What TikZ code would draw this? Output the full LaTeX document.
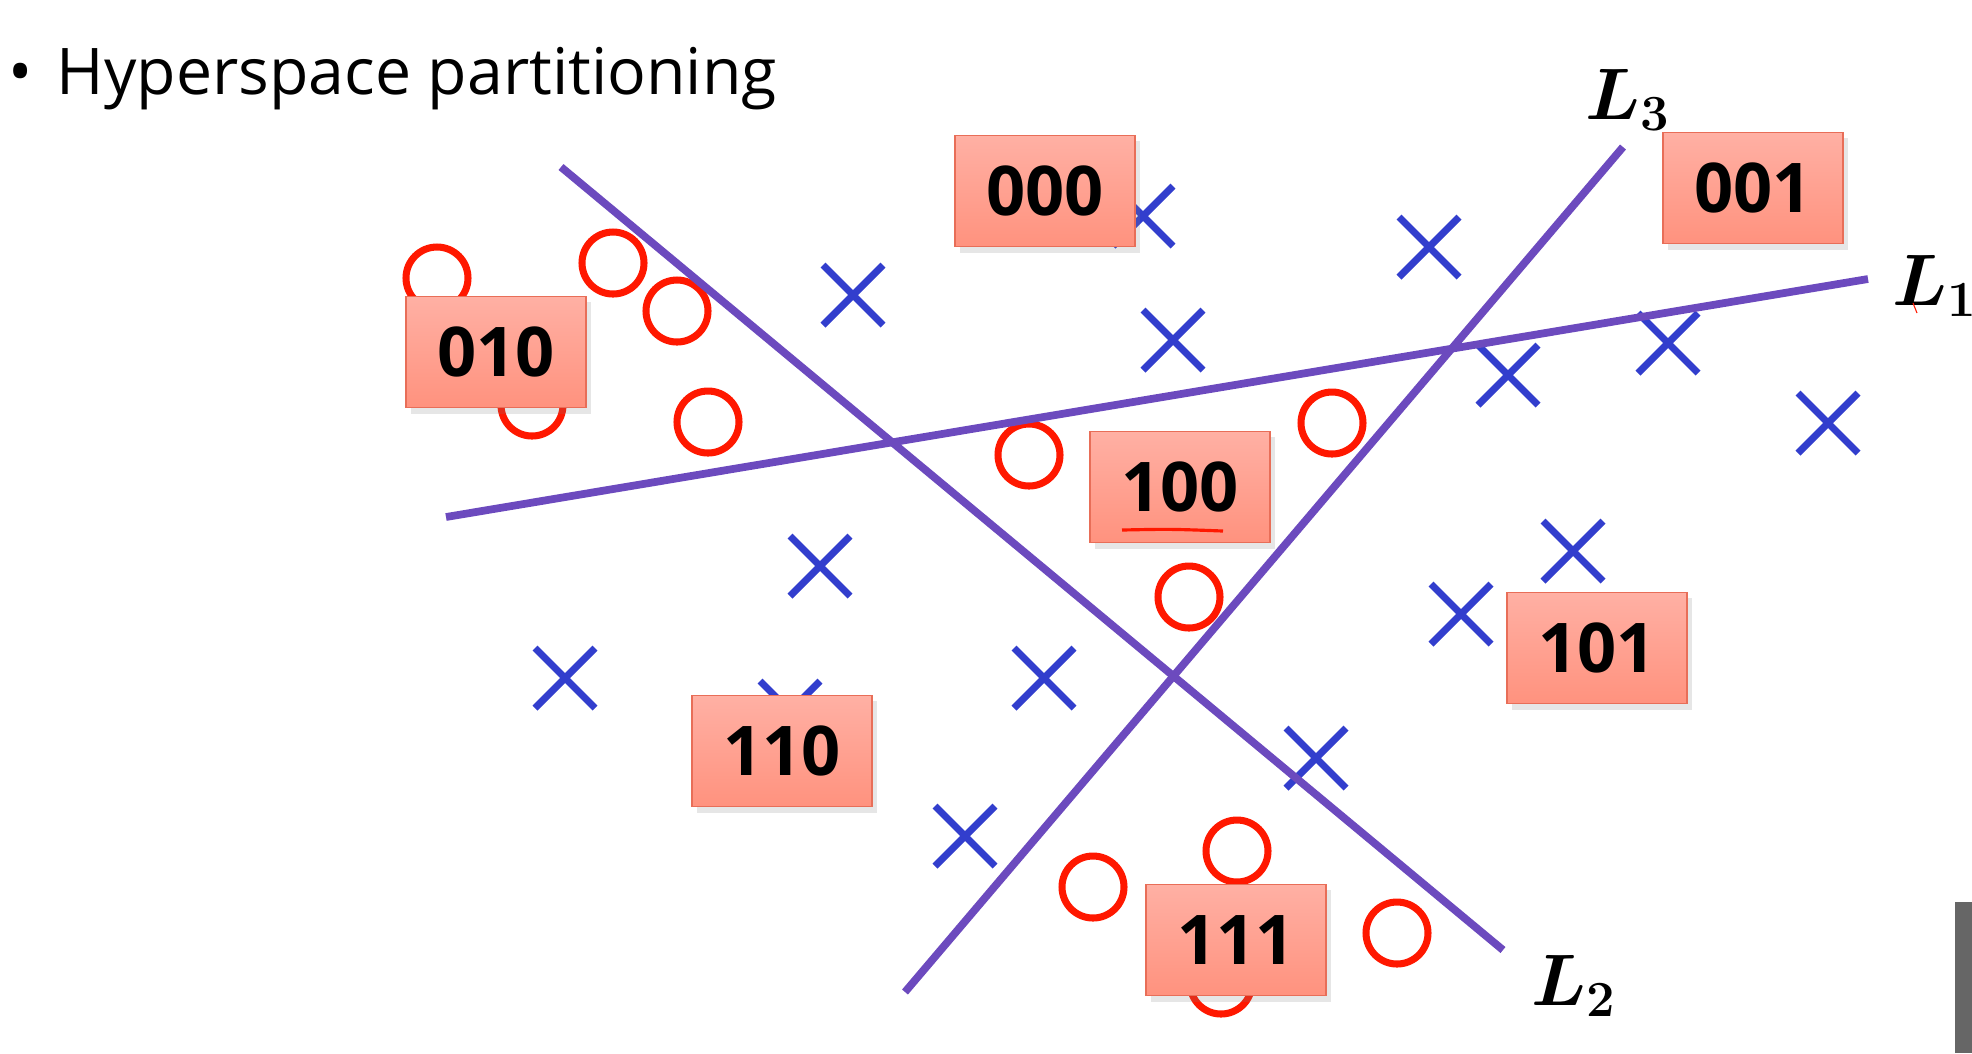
\documentclass[tikz,border=0pt]{standalone}
\usepackage{fontspec}
\usepackage{amsmath}
\usepackage{bm}
\setmainfont{Open Sans}
\usetikzlibrary{positioning, shadows}
\definecolor{cutline}{RGB}{108,74,190}
\definecolor{crossblue}{RGB}{50,62,205}
\definecolor{ringred}{RGB}{255,24,0}
\definecolor{boxtop}{RGB}{255,176,164}
\definecolor{boxbot}{RGB}{255,146,126}
\definecolor{boxline}{RGB}{232,110,88}
\definecolor{barGray}{RGB}{102,102,102}

\begin{document}
\begin{tikzpicture}[
        x=0.01cm, y=-0.01cm,
        cut/.style={draw=cutline, line width=2.2pt},
        cross/.style={draw=crossblue, line width=2pt},
        ring/.style={draw=ringred, line width=2pt},
        region/.style={draw=boxline, line width=0.5pt, top color=boxtop, bottom color=boxbot,
            minimum width=1.8cm, minimum height=1.11cm, inner sep=0pt,
            font=\fontsize{19.5}{21}\selectfont\bfseries,
            drop shadow={shadow xshift=0.05cm, shadow yshift=-0.06cm, opacity=0.2}},
        linelabel/.style={font=\fontsize{20}{22}\selectfont, inner sep=0pt}
    ]
        \useasboundingbox (0,0) rectangle (1972,1053);

        \node[anchor=base west, inner sep=0pt, font=\fontsize{18.3}{20}\selectfont] (title) at (8,94)
            {\textbullet\hspace{0.24cm}Hyperspace partitioning};

        % data points
        \foreach \px/\py in {437/278, 613/263, 677/311, 532/405, 708/422, 1029/455,
                1332/423, 1189/597, 1237/851, 1093/887, 1397/933, 1221/983}
            \draw[ring] (\px,\py) circle[radius=31];
        \foreach \px/\py in {1143/216, 853/295, 1429/247, 1173/340, 1508/375, 1668/343,
                1828/423, 820/566, 1573/551, 1461/614, 565/678, 790/711, 1044/678,
                1316/758, 965/836}
            \draw[cross] (\px,\py) +(-30,-30) -- +(30,30) +(-30,30) -- +(30,-30);

        % separating lines
        \coordinate (l1a) at (446,517);
        \coordinate (l1b) at (1868,279);
        \coordinate (l2a) at (561,167);
        \coordinate (l2b) at (1503,950);
        \coordinate (l3a) at (905,992);
        \coordinate (l3b) at (1623,147);
        \draw[cut] (l1a) -- (l1b);
        \draw[cut] (l2a) -- (l2b);
        \draw[cut] (l3a) -- (l3b);

        \node[linelabel] (lab1) at (1935,286) {$\bm{L}_{\bm{1}}$};
        \node[linelabel] (lab2) at (1574,986) {$\bm{L}_{\bm{2}}$};
        \node[linelabel] (lab3) at (1628,100) {$\bm{L}_{\bm{3}}$};
        \draw[ringred, line width=0.3pt] (1913,303) -- (1917,313);

        % region codes
        \node[region] (r000) at (1045,191) {000};
        \node[region] (r001) at (1753,188) {001};
        \node[region] (r010) at (496,352) {010};
        \node[region] (r100) at (1180,487) {100};
        \node[region] (r101) at (1597,648) {101};
        \node[region] (r110) at (782,751) {110};
        \node[region] (r111) at (1236,940) {111};
        \draw[ringred, line width=0.9pt] (1122,530) .. controls (1170,529) .. (1223,531);

        \fill[barGray] (1955,902) rectangle (1972,1053);
    \end{tikzpicture}
\end{document}
